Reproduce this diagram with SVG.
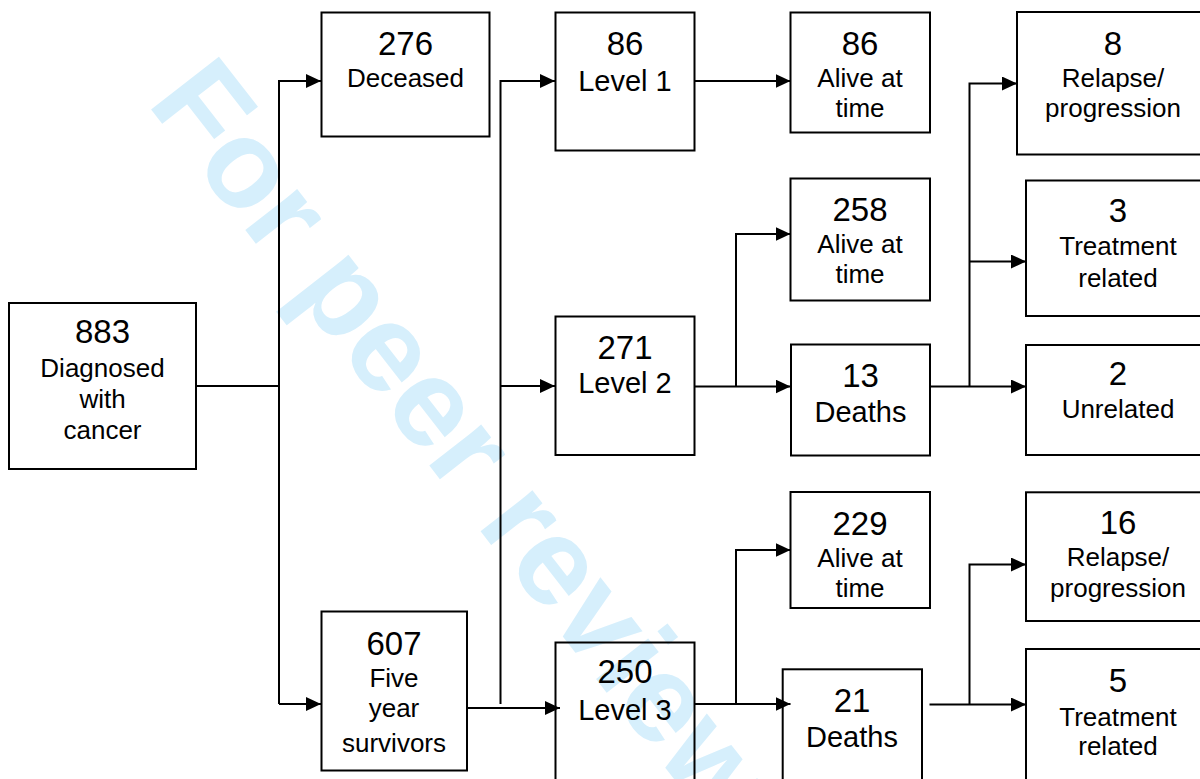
<svg xmlns="http://www.w3.org/2000/svg" width="1200" height="779" viewBox="0 0 1200 779">
<style>
  .box { fill: none; stroke: #000; stroke-width: 2; }
  .num { font-family: "Liberation Sans", Arial, sans-serif; font-size: 33px; text-anchor: middle; fill: #000; }
  .lbl { font-family: "Liberation Sans", Arial, sans-serif; font-size: 26px; text-anchor: middle; fill: #000; }
  .big { font-size: 29px; }
  .wm { font-family: "Liberation Sans", Arial, sans-serif; font-size: 125px; font-weight: bold; fill: #d6effc; }
  .conn path { fill: none; stroke: #000; stroke-width: 2; }
  .arr { marker-end: url(#ah); }
</style>
<defs>
  <marker id="ah" markerUnits="userSpaceOnUse" markerWidth="15" markerHeight="14" refX="15" refY="7" orient="auto">
    <path d="M0,0 L15,7 L0,14 z" fill="#000"/>
  </marker>
</defs>
<rect width="1200" height="779" fill="#fff"/>
<text class="wm" transform="translate(146,103) rotate(52)">For peer review</text>

<g class="conn" id="connectors">
  <path d="M196,386 H279"/>
  <path class="arr" d="M279,704 V81 H321"/>
  <path class="arr" d="M279,704 H321"/>
  <path class="arr" d="M500.5,704 V81 H555"/>
  <path class="arr" d="M500.5,386 H555"/>
  <path class="arr" d="M467,708 H560"/>
  <path class="arr" d="M694.5,81 H790.5"/>
  <path class="arr" d="M694.5,386.5 H790.5"/>
  <path class="arr" d="M736,386.5 V234 H790.5"/>
  <path class="arr" d="M694.5,704 H790.5"/>
  <path class="arr" d="M736,704 V550 H790.5"/>
  <path class="arr" d="M930,386.5 H1026"/>
  <path class="arr" d="M969.5,386.5 V83.5 H1017"/>
  <path class="arr" d="M969.5,261.5 H1026"/>
  <path class="arr" d="M929.5,704.5 H1026"/>
  <path class="arr" d="M969.5,704.5 V564.5 H1026"/>
</g>

<g id="n883">
  <rect class="box" x="9" y="303" width="187" height="166"/>
  <text class="num" x="102.5" y="343">883</text>
  <text class="lbl" x="102.5" y="377">Diagnosed</text>
  <text class="lbl" x="102.5" y="408">with</text>
  <text class="lbl" x="102.5" y="439">cancer</text>
</g>
<g id="n276">
  <rect class="box" x="321.5" y="12.5" width="168" height="124"/>
  <text class="num" x="405.5" y="55">276</text>
  <text class="lbl" x="405.5" y="87">Deceased</text>
</g>
<g id="n607">
  <rect class="box" x="321.5" y="611.5" width="145.5" height="159"/>
  <text class="num" x="394" y="655">607</text>
  <text class="lbl" x="394" y="687">Five</text>
  <text class="lbl" x="394" y="717">year</text>
  <text class="lbl" x="394" y="752">survivors</text>
</g>
<g id="nLevel1">
  <rect class="box" x="555.5" y="12.5" width="139" height="138"/>
  <text class="num" x="625" y="55">86</text>
  <text class="lbl big" x="625" y="91">Level 1</text>
</g>
<g id="nLevel2">
  <rect class="box" x="555.5" y="316.5" width="139" height="138.5"/>
  <text class="num" x="625" y="359">271</text>
  <text class="lbl big" x="625" y="393">Level 2</text>
</g>
<g id="nLevel3">
  <rect class="box" x="555.5" y="642.5" width="139" height="150"/>
  <text class="num" x="625" y="683">250</text>
  <text class="lbl big" x="625" y="720">Level 3</text>
</g>
<g id="nAlive86">
  <rect class="box" x="790.5" y="12.5" width="139.5" height="120"/>
  <text class="num" x="860" y="55">86</text>
  <text class="lbl" x="860" y="87">Alive at</text>
  <text class="lbl" x="860" y="117">time</text>
</g>
<g id="nAlive258">
  <rect class="box" x="790.5" y="178.5" width="139.5" height="122"/>
  <text class="num" x="860" y="221">258</text>
  <text class="lbl" x="860" y="253">Alive at</text>
  <text class="lbl" x="860" y="283">time</text>
</g>
<g id="nDeaths13">
  <rect class="box" x="791" y="344.5" width="139" height="111"/>
  <text class="num" x="860.5" y="387">13</text>
  <text class="lbl big" x="860.5" y="422">Deaths</text>
</g>
<g id="nAlive229">
  <rect class="box" x="790.5" y="492" width="139.5" height="116"/>
  <text class="num" x="860" y="535">229</text>
  <text class="lbl" x="860" y="567">Alive at</text>
  <text class="lbl" x="860" y="597">time</text>
</g>
<g id="nDeaths21">
  <rect class="box" x="782.7" y="669.3" width="139.3" height="130"/>
  <text class="num" x="852" y="712">21</text>
  <text class="lbl big" x="852" y="747">Deaths</text>
</g>
<g id="nRelapse8">
  <rect class="box" x="1017" y="12" width="192" height="142.5"/>
  <text class="num" x="1113" y="55">8</text>
  <text class="lbl" x="1113" y="87">Relapse/</text>
  <text class="lbl" x="1113" y="117">progression</text>
</g>
<g id="nTreat3">
  <rect class="box" x="1026" y="180.5" width="184" height="135.5"/>
  <text class="num" x="1118" y="222">3</text>
  <text class="lbl" x="1118" y="255">Treatment</text>
  <text class="lbl" x="1118" y="287">related</text>
</g>
<g id="nUnrel2">
  <rect class="box" x="1026" y="345" width="184" height="110"/>
  <text class="num" x="1118" y="385">2</text>
  <text class="lbl" x="1118" y="418">Unrelated</text>
</g>
<g id="nRelapse16">
  <rect class="box" x="1026" y="492.3" width="184" height="128.7"/>
  <text class="num" x="1118" y="534">16</text>
  <text class="lbl" x="1118" y="566">Relapse/</text>
  <text class="lbl" x="1118" y="597">progression</text>
</g>
<g id="nTreat5">
  <rect class="box" x="1026" y="649" width="184" height="150"/>
  <text class="num" x="1118" y="692">5</text>
  <text class="lbl" x="1118" y="726">Treatment</text>
  <text class="lbl" x="1118" y="755">related</text>
</g>
</svg>
